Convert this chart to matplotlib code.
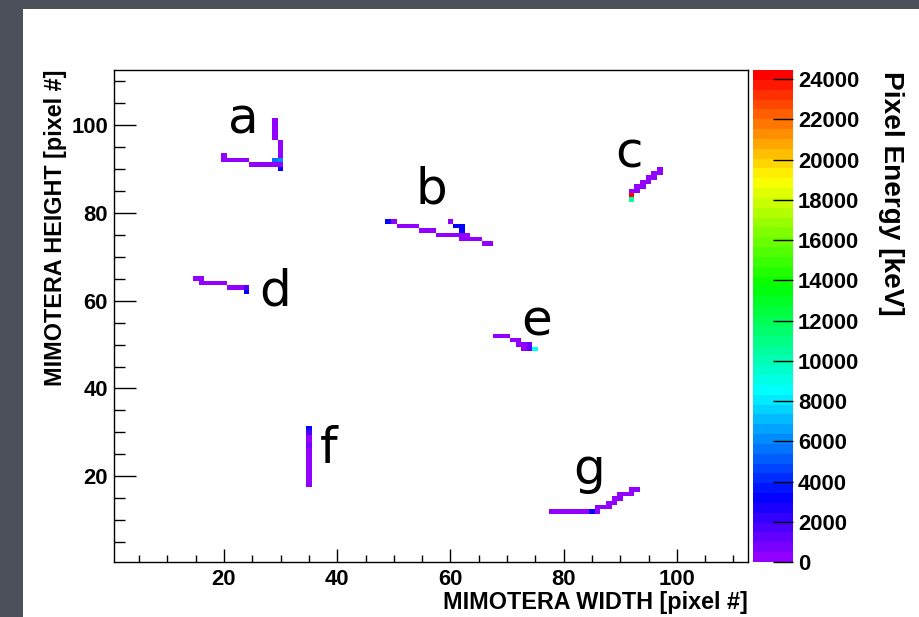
import colorsys
import numpy as np
import matplotlib
matplotlib.use('Agg')
import matplotlib.pyplot as plt
from matplotlib.colors import ListedColormap, Normalize
from matplotlib.patches import Rectangle
from matplotlib.ticker import MultipleLocator

plt.rcParams['font.family'] = ['Liberation Sans', 'DejaVu Sans']
plt.rcParams['font.weight'] = 'bold'
plt.rcParams['axes.labelweight'] = 'bold'

# fired pixels: column, row, deposited energy [keV]
hit_col = [
    # a
    20, 20, 21, 22, 23, 24, 25, 26, 27, 28, 29, 29,
    30, 30, 30, 30, 30, 30, 30, 29, 29, 29, 29, 29,
    # b
    49, 50, 51, 52, 53, 54, 55, 56, 57, 58, 59, 60, 61, 62, 63,
    60, 61, 62, 62, 62, 63, 64, 65, 66, 67,
    # c
    92, 92, 92, 93, 93, 94, 94, 95, 95, 96, 96, 97, 97,
    # d
    15, 16, 16, 17, 18, 19, 20, 21, 22, 23, 24, 24,
    # e
    68, 69, 70, 71, 72, 72, 73, 74, 73, 74, 75,
    # f
    35, 35, 35, 35, 35, 35, 35, 35, 35, 35, 35, 35, 35, 35,
    # g
    78, 79, 80, 81, 82, 83, 84, 85, 86, 86, 87, 88, 88, 89, 89, 90,
    90, 91, 92, 92, 93,
]
hit_row = [
    # a
    93, 92, 92, 92, 92, 92, 91, 91, 91, 91, 91, 92,
    90, 91, 92, 93, 94, 95, 96, 97, 98, 99, 100, 101,
    # b
    78, 78, 77, 77, 77, 77, 76, 76, 76, 75, 75, 75, 75, 75, 75,
    78, 77, 77, 76, 74, 74, 74, 74, 73, 73,
    # c
    83, 84, 85, 85, 86, 86, 87, 87, 88, 88, 89, 89, 90,
    # d
    65, 65, 64, 64, 64, 64, 64, 63, 63, 63, 63, 62,
    # e
    52, 52, 52, 51, 51, 50, 50, 50, 49, 49, 49,
    # f
    18, 19, 20, 21, 22, 23, 24, 25, 26, 27, 28, 29, 30, 31,
    # g
    12, 12, 12, 12, 12, 12, 12, 12, 12, 13, 13, 13, 14, 14, 15, 15,
    16, 16, 16, 17, 17,
]
hit_e = [
    # a
    200, 200, 200, 200, 200, 200, 200, 200, 200, 200, 200, 5600,
    3200, 200, 6000, 200, 200, 200, 200, 200, 200, 200, 200, 200,
    # b
    3200, 200, 200, 200, 200, 200, 200, 200, 200, 200, 200, 200, 200, 200, 200,
    200, 3200, 3200, 3200, 200, 200, 200, 200, 200, 200,
    # c
    10500, 24400, 200, 200, 200, 200, 200, 200, 200, 200, 200, 200, 200,
    # d
    200, 200, 200, 200, 200, 200, 200, 200, 200, 200, 1700, 3200,
    # e
    200, 200, 200, 200, 200, 200, 200, 1200, 200, 1200, 8700,
    # f
    200, 200, 200, 200, 200, 200, 200, 200, 200, 700, 200, 200, 1700, 3200,
    # g
    200, 200, 200, 200, 200, 200, 200, 3200, 200, 200, 200, 200, 200, 200, 200, 200,
    200, 200, 200, 200, 200,
]

track_names = ['a', 'b', 'c', 'd', 'e', 'f', 'g']
name_x = [23.5, 56.7, 91.6, 29.0, 75.3, 38.5, 84.5]
name_y = [98.1, 82.2, 90.2, 59.0, 52.1, 23.0, 18.2]

n_pix = 112
z_max = 24450

# ROOT "pretty" palette: 50 hues from violet to red
pal = [colorsys.hls_to_rgb((280 - (i + 1) * 5.6) / 360.0, 0.5, 1.0) for i in range(50)]
cmap = ListedColormap(pal)
norm = Normalize(0, z_max)

grid = np.full((n_pix, n_pix), np.nan)
for c, r, e in zip(hit_col, hit_row, hit_e):
    grid[r - 1, c - 1] = e
edges = np.arange(n_pix + 1) + 0.5

W, H = 919, 617
fig = plt.figure(figsize=(W / 100, H / 100), dpi=100)
fig.patch.set_facecolor('#4c505a')
fig.add_artist(Rectangle((23 / W, 0), 1, (H - 9) / H, transform=fig.transFigure,
                         facecolor='white', edgecolor='none', zorder=0))

ax = fig.add_axes([113.6 / W, 1 - 562 / H, 634 / W, 492 / H])
mesh = ax.pcolormesh(edges, edges, np.ma.masked_invalid(grid), cmap=cmap, norm=norm)
ax.set_xlim(0.5, 112.5)
ax.set_ylim(0.5, 112.5)

ax.xaxis.set_major_locator(MultipleLocator(20))
ax.xaxis.set_minor_locator(MultipleLocator(5))
ax.yaxis.set_major_locator(MultipleLocator(20))
ax.yaxis.set_minor_locator(MultipleLocator(5))
ax.tick_params(axis='both', which='both', direction='in', labelsize=15.8, width=1.0)
ax.tick_params(axis='y', which='major', length=15.8, pad=4)
ax.tick_params(axis='y', which='minor', length=8)
ax.tick_params(axis='x', which='major', length=9.4, pad=5)
ax.tick_params(axis='x', which='minor', length=5)
for sp in ax.spines.values():
    sp.set_linewidth(1.0)

ax.set_xlabel('MIMOTERA WIDTH [pixel #]', fontsize=16.8, fontweight='bold', loc='right')
ax.xaxis.set_label_coords(1.0, -0.059)
ax.set_ylabel('MIMOTERA HEIGHT [pixel #]', fontsize=16.8, fontweight='bold', loc='top')
ax.yaxis.set_label_coords(-0.074, 1.0)

for name, tx, ty in zip(track_names, name_x, name_y):
    ax.text(tx, ty, name, fontsize=36, fontweight='normal', family='DejaVu Sans',
            ha='center', va='baseline')

cax = fig.add_axes([752.7 / W, 1 - 562 / H, 40.3 / W, 492 / H])
cb = fig.colorbar(mesh, cax=cax)
cb.set_ticks(np.arange(0, 24001, 2000))
cb.outline.set_visible(False)
cax.tick_params(direction='in', length=14.4, width=1.0, labelsize=15.8, pad=3.6)
for lbl in cax.get_yticklabels():
    lbl.set_fontweight('bold')

fig.text(891 / W, 1 - 71 / H, 'Pixel Energy [keV]', rotation=-90, rotation_mode='anchor',
         ha='left', va='center', fontsize=20.2, fontweight='bold')

fig.savefig('out.png', dpi=100)
